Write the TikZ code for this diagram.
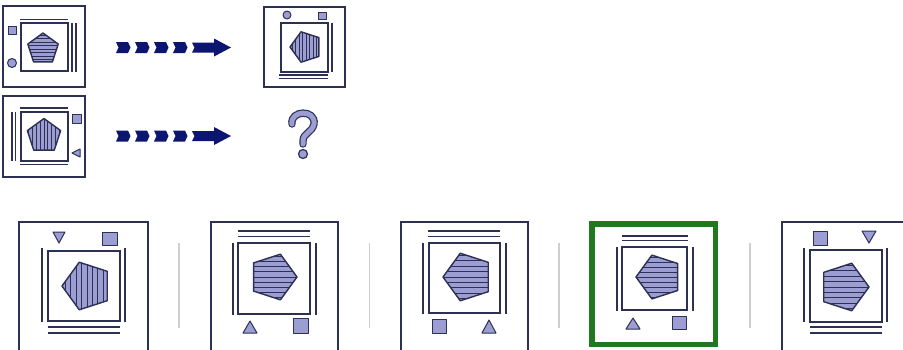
\documentclass[tikz,border=0pt]{standalone}
\usepackage{tikz}

\definecolor{navy}{HTML}{2C3052}
\definecolor{lav}{HTML}{9C9DD2}
\definecolor{arrowblue}{HTML}{0C1570}
\definecolor{okgreen}{HTML}{1F7A1F}
\definecolor{sepgrey}{HTML}{CFCFCF}

\tikzset{
    frame/.style={draw=navy, line width=1.5pt},
    rule/.style={draw=navy, line width=1.4pt},
    token/.style={fill=lav, draw=navy, line width=1pt, line join=round},
}

% striped pentagon: centre x, centre y, radius, angle of the tip, angle of the stripes
\newcommand{\stripedpenta}[5]{%
    \begin{scope}[shift={(#1,#2)}]
        \pgfmathsetmacro{\gap}{#3/4.6}
        \begin{scope}
            \clip (#4:#3) -- (#4+72:#3) -- (#4+144:#3) -- (#4+216:#3) -- (#4+288:#3) -- cycle;
            \fill[lav] (-#3,-#3) rectangle (#3,#3);
            \begin{scope}[rotate=#5]
                \foreach \k in {-6,...,6}
                    \draw[navy, line width=0.9pt] (-#3-2,\k*\gap) -- (#3+2,\k*\gap);
            \end{scope}
        \end{scope}
        \draw[navy, line width=1.4pt, line join=round] (#4:#3) -- (#4+72:#3) -- (#4+144:#3) -- (#4+216:#3) -- (#4+288:#3) -- cycle;
    \end{scope}}

\begin{document}
\begin{tikzpicture}[x=1pt, y=-1pt]
        \path[use as bounding box, clip] (0,0) rectangle (903,349);
        \fill[white] (0,0) rectangle (903,349);
        % Below is the first example pair.
            \draw[frame] (3,6) rectangle (85,87);
            \draw[rule] (21,23) rectangle (68,71);
            \draw[rule] (20,19.5) -- (68,19.5);
            \draw[rule] (72,23) -- (72,72) (76,23) -- (76,72);
            \draw[token] (8,26) rectangle (16,34);
            \draw[token] (12,63) circle (4.5);
            \stripedpenta{43}{49}{16}{-90}{0}
            \draw[frame] (264,7) rectangle (345,87);
            \draw[rule] (281,23) rectangle (328,72);
            \draw[rule] (332,23) -- (332,72);
            \draw[rule] (279,75) -- (328,75) (279,78.5) -- (328,78.5);
            \draw[token] (287,15) circle (4);
            \draw[token] (318,12) rectangle (326,19.5);
            \stripedpenta{306}{47}{16}{180}{90}
        % Below is the second pair, with the question mark.
            \draw[frame] (3,96) rectangle (85,177);
            \draw[rule] (21,112) rectangle (68,161);
            \draw[rule] (20,108) -- (68,108) (20,164.5) -- (68,164.5);
            \draw[rule] (12,112) -- (12,161) (15.5,112) -- (15.5,161);
            \draw[token] (72,114) rectangle (81,123);
            \draw[token] (72,153) -- (80,149) -- (80,157) -- cycle;
            \stripedpenta{44}{136}{17.5}{-90}{90}
            \draw[navy, line width=1.2pt, double=lav, double distance=5pt, line cap=round]
                (292,124) .. controls (290,110) and (316,109) .. (314,124)
                .. controls (312,133) and (303,133) .. (303,141) -- (303,144);
            \draw[token, line width=1.2pt] (303,154) circle (4.5);
        % This draws the two dotted arrows.
            \foreach \ay in {47.5,136} {
                \foreach \bx in {116,135,154,173}
                    \fill[arrowblue] (\bx,\ay-5.5) -- ++(12,0) -- ++(2.5,5.5) -- ++(-2.5,5.5)
                        -- ++(-12,0) -- ++(2.5,-5.5) -- cycle;
                \fill[arrowblue] (192,\ay-5) -- (214,\ay-5) -- (214,\ay-9) -- (231,\ay)
                    -- (214,\ay+9) -- (214,\ay+5) -- (192,\ay+5) -- (194.5,\ay) -- cycle;
            }
        % Below are the five answers.
            \draw[frame] (19,222) rectangle (148,360);
            \draw[rule] (48,251) rectangle (120,321);
            \draw[rule] (42,248) -- (42,322) (125,248) -- (125,322);
            \draw[rule] (48,327) -- (120,327) (48,333) -- (120,333);
            \draw[token] (53,232) -- (65,232) -- (59,243) -- cycle;
            \draw[token] (102,232) rectangle (117,245);
            \stripedpenta{87}{286}{25}{180}{90}
            \draw[frame] (211,222) rectangle (338,360);
            \draw[rule] (238,231) -- (310,231) (238,236.5) -- (310,236.5);
            \draw[rule] (238,243) rectangle (310,314);
            \draw[rule] (233,243) -- (233,315) (316,243) -- (316,315);
            \draw[token] (243,333) -- (257,333) -- (250,321) -- cycle;
            \draw[token] (293,318) rectangle (308,333);
            \stripedpenta{273}{277}{24}{0}{0}
            \draw[frame] (401,222) rectangle (528,360);
            \draw[rule] (428,231) -- (500,231) (428,236.5) -- (500,236.5);
            \draw[rule] (429,243) rectangle (500,313);
            \draw[rule] (423,243) -- (423,314) (506,243) -- (506,314);
            \draw[token] (432,319) rectangle (446,333);
            \draw[token] (482,333) -- (496,333) -- (489,320) -- cycle;
            \stripedpenta{468}{277}{25}{180}{0}
            \draw[okgreen, line width=5.5pt] (592,224) rectangle (715.5,344.5);
            \draw[rule] (622,236) -- (688,236) (622,240.5) -- (688,240.5);
            \draw[rule] (622,247) rectangle (687,310);
            \draw[rule] (617,247) -- (617,311) (693,247) -- (693,311);
            \draw[token] (626,329) -- (640,329) -- (633,318) -- cycle;
            \draw[token] (672,316) rectangle (686,329);
            \stripedpenta{659}{277}{23}{180}{0}
            \draw[frame] (782,222) rectangle (910,360);
            \draw[token] (813,231) rectangle (827,245);
            \draw[token] (862,231) -- (876,231) -- (869,243) -- cycle;
            \draw[rule] (810,250) rectangle (882,322);
            \draw[rule] (804,248) -- (804,322) (887,248) -- (887,322);
            \draw[rule] (810,327) -- (882,327) (810,333) -- (882,333);
            \stripedpenta{844}{287}{25}{0}{0}
        % These are the grey separators.
            \foreach \sx in {179,369.5,559,750}
                \draw[sepgrey, line width=1.2pt] (\sx,243) -- (\sx,328);
    \end{tikzpicture}
\end{document}
